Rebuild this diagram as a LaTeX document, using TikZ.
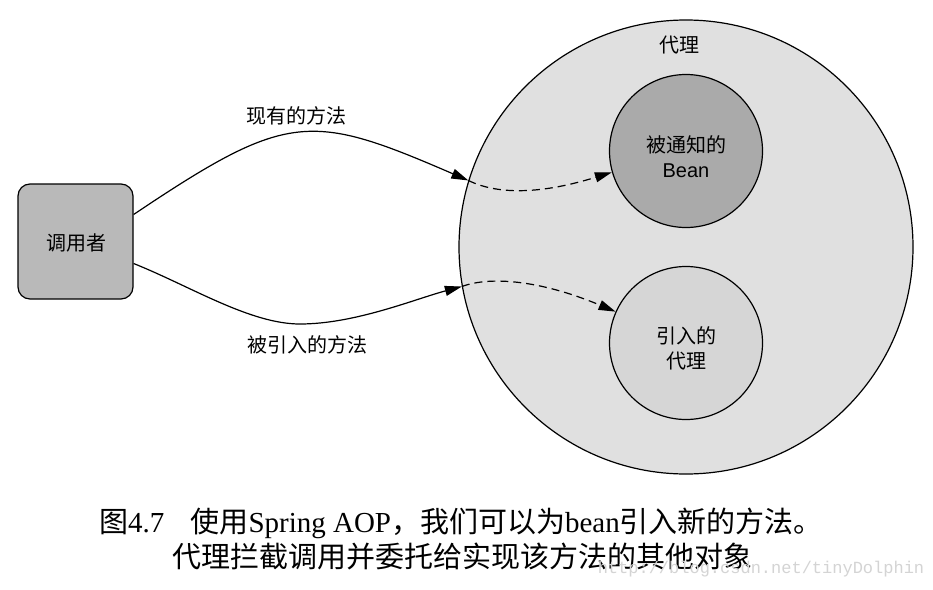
\documentclass[tikz,border=0pt]{standalone}
\usepackage{fontspec}
\setmainfont{Liberation Serif}
\newfontfamily\cjk{Noto Sans CJK SC}
\newfontfamily\sansb{Liberation Sans}
\newfontfamily\monow{Liberation Mono}
\usetikzlibrary{arrows.meta}
\definecolor{proxyfill}{RGB}{224,224,224}
\definecolor{beanfill}{RGB}{170,170,170}
\definecolor{introfill}{RGB}{214,214,214}
\definecolor{callerfill}{RGB}{185,185,185}
\definecolor{wmark}{RGB}{212,212,212}
\tikzset{
  lbl/.style={font=\cjk\fontsize{20}{25}\selectfont, align=center, inner sep=0pt},
  bigcirc/.style={circle, draw, line width=1.2pt, fill=proxyfill, minimum size=454pt, inner sep=0pt},
  smallcirc/.style={circle, draw, line width=1.2pt, minimum size=153pt, inner sep=0pt},
  callerbox/.style={draw, line width=1.2pt, fill=callerfill, rounded corners=12pt, minimum width=115pt, minimum height=115pt, inner sep=0pt},
  conn/.style={line width=1.2pt, -{Triangle[length=17pt,width=10pt]}},
  dconn/.style={conn, dash pattern=on 8pt off 5pt},
  captext/.style={font=\fontsize{29}{34}\selectfont, inner sep=0pt}
}
\begin{document}
\begin{tikzpicture}[x=1pt,y=-1pt]
\useasboundingbox (0,0) rectangle (933,589);
\fill[white] (0,0) rectangle (933,589);
% proxy
\node[bigcirc] (proxy) at (686,247) {};
\node[lbl] (proxylbl) at (679,45) {代理};
\node[smallcirc, fill=beanfill] (bean) at (686,151) {};
\node[lbl] (beanlbl) at (686,157) {被通知的\\{\sansb Bean}};
\node[smallcirc, fill=introfill] (intro) at (686,343) {};
\node[lbl] (introlbl) at (686,348) {引入的\\代理};
% caller
\node[callerbox] (caller) at (75.5,241.5) {};
\node[lbl] (callerlbl) at (76,243) {调用者};
% connectors
\coordinate (low) at (300,324);
\draw[conn] ([yshift=27pt]caller.east) .. controls (288,111) and (310,112) .. (proxy.163);
\draw[dconn] (proxy.163) .. controls (500,196) and (545,193) .. (bean.196);
\draw[conn] ([yshift=-22pt]caller.east) .. controls (190,286) and (250,324) .. (low) .. controls (355,324) and (415,299) .. (proxy.190);
\draw[dconn] (proxy.190) .. controls (490,276) and (540,280) .. (intro.156);
\node[lbl] (l1) at (296,116) {现有的方法};
\node[lbl] (l2) at (307,345) {被引入的方法};
% caption
\node[captext] (cap1) at (461,523) {{\cjk 图}4.7\hspace{0.9em}{\cjk 使用}Spring AOP{\cjk ，我们可以为}bean{\cjk 引入新的方法。}};
\node[captext] (cap2) at (462,556) {\cjk 代理拦截调用并委托给实现该方法的其他对象};
\node[font=\monow\fontsize{17}{17}\selectfont, text=wmark, inner sep=0pt] (wm) at (761,569) {http://blog.csdn.net/tinyDolphin};
\end{tikzpicture}
\end{document}
